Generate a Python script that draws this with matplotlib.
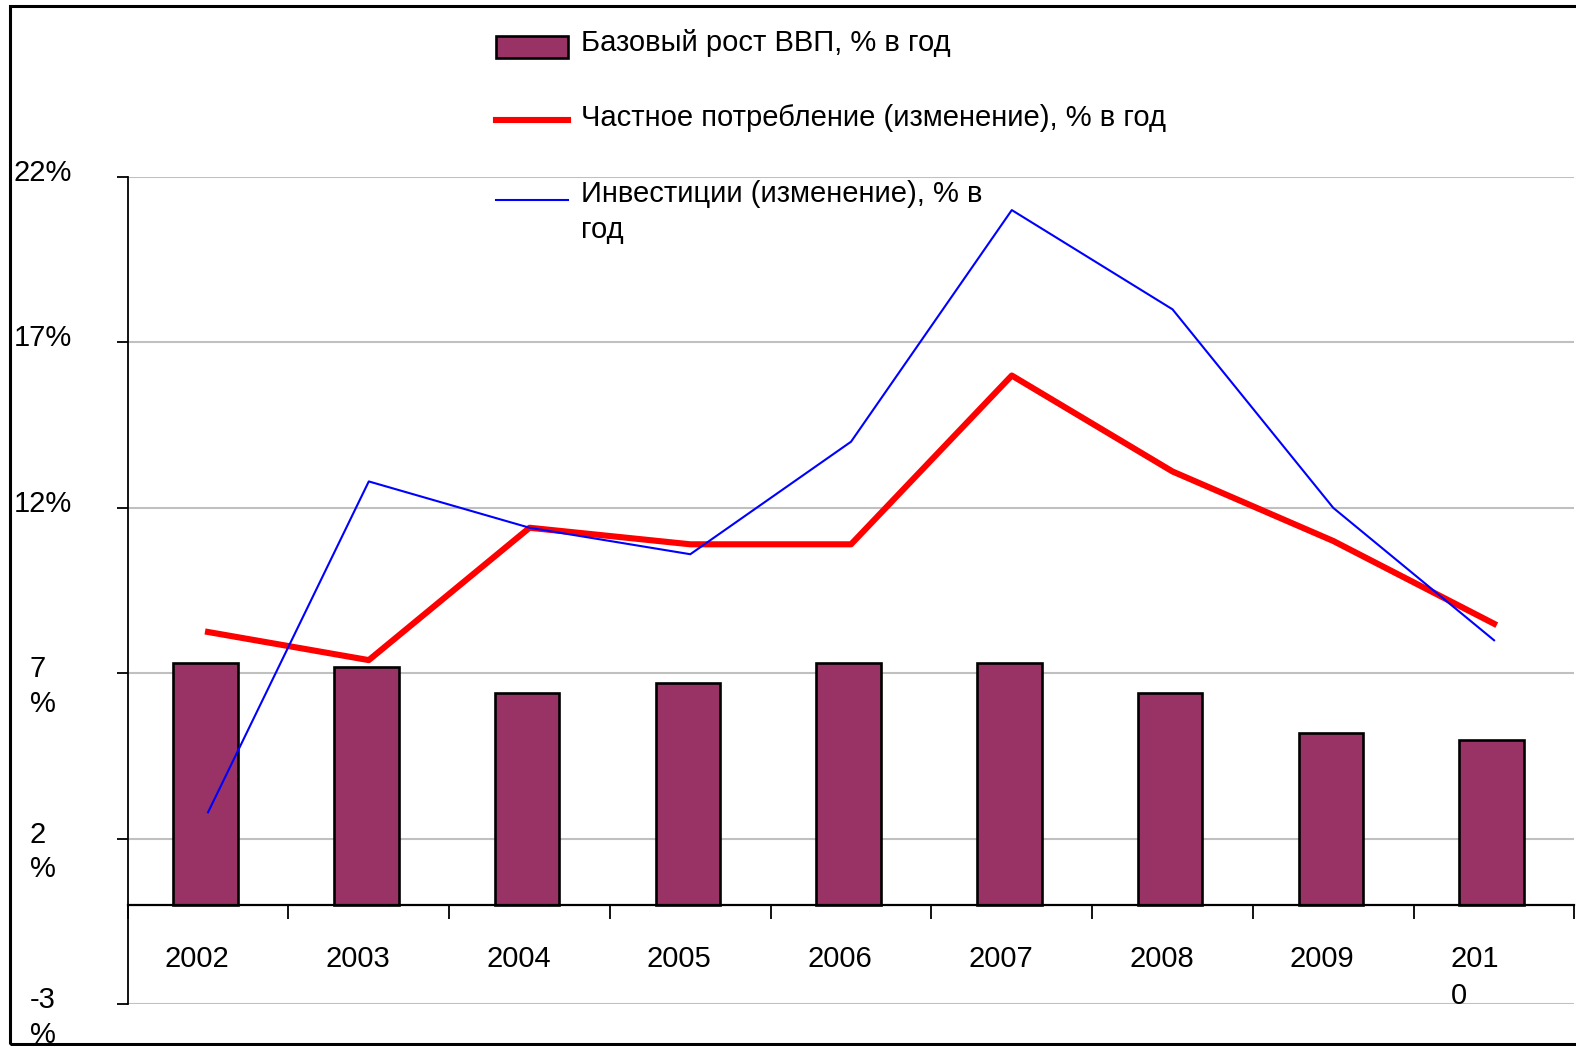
import numpy as np
import matplotlib.pyplot as plt
from matplotlib.patches import Rectangle, Patch
from matplotlib.transforms import ScaledTranslation

plt.rcParams['font.family'] = ['Liberation Sans', 'DejaVu Sans']

# данные
years = ['2002', '2003', '2004', '2005', '2006', '2007', '2008', '2009', '201\n0']
gdp = [7.3, 7.2, 6.4, 6.7, 7.3, 7.3, 6.4, 5.2, 5.0]
consumption = [8.25, 7.4, 11.4, 10.9, 10.9, 16.0, 13.1, 11.0, 8.5]
investment = [2.8, 12.8, 11.4, 10.6, 14.0, 21.0, 18.0, 12.0, 8.0]
yticks = [-3, 2, 7, 12, 17, 22]
ytick_labels = ['-3\n%', '2\n%', '7\n%', '12%', '17%', '22%']
series_names = ['Базовый рост ВВП, % в год',
                'Частное потребление (изменение), % в год',
                'Инвестиции (изменение), % в\nгод']

fs = 21
x = np.arange(len(years))

fig = plt.figure(figsize=(15.76, 10.46), dpi=100)
ax = fig.add_axes([0.081, 0.0399, 0.918, 0.7909])

# рамка вокруг всей картинки
fig.patches.append(Rectangle((0.0065, 0.002), 1.0, 0.9925, transform=fig.transFigure,
                             fill=False, edgecolor='black', linewidth=2.2))

bars = ax.bar(x - 0.015, gdp, width=0.4, color='#993366', edgecolor='black', linewidth=1.9, zorder=2)
red, = ax.plot(x, consumption, color='#ff0000', linewidth=4.4, zorder=3)
blue, = ax.plot(x, investment, color='#0000ff', linewidth=1.5, zorder=4)

ax.set_xlim(-0.5, len(years) - 0.5)
ax.set_ylim(-3, 22)

# сетка
ax.set_yticks(yticks)
ax.set_yticklabels(ytick_labels, fontsize=fs, ha='center', va='top',
                   multialignment='left', linespacing=1.3)
ax.yaxis.grid(True, color='#c0c0c0', linewidth=1.5, zorder=0)
ax.set_axisbelow(True)
ax.tick_params(axis='y', direction='out', length=8, width=1.3, pad=53)
off = ScaledTranslation(0, 0.18, fig.dpi_scale_trans)
for lab in ax.get_yticklabels():
    lab.set_transform(lab.get_transform() + off)

# ось X по нулю, метки между категориями
ax.spines['top'].set_visible(False)
ax.spines['right'].set_visible(False)
ax.spines['bottom'].set_position(('data', 0))
ax.spines['bottom'].set_linewidth(1.6)
ax.spines['left'].set_linewidth(1.3)
ax.set_xticks(np.arange(len(years) + 1) - 0.5)
ax.set_xticklabels([])
ax.tick_params(axis='x', direction='out', length=10, width=1.3)

for i, yr in enumerate(years):
    ax.text(i - 0.5 + 0.23, -1.22, yr, fontsize=fs, ha='left', va='top', linespacing=1.4)

leg = fig.legend([bars, red, blue], series_names, loc='upper left',
                 bbox_to_anchor=(0.315, 1 - 29 / 1046), frameon=False, fontsize=fs,
                 handlelength=2.45, handleheight=0.75, handletextpad=0.45,
                 labelspacing=1.62, borderpad=0, borderaxespad=0)
for t in leg.get_texts():
    t.set_linespacing(1.4)

# значки легенды немного ниже/выше текста, как в оригинале
for h, dy in zip(leg.legend_handles, [-0.06, -0.04, 0.12]):
    shift = ScaledTranslation(0, dy, fig.dpi_scale_trans)
    if isinstance(h, Patch):
        h.set_transform(h.get_data_transform() + shift)
    else:
        h.set_transform(h.get_transform() + shift)

fig.savefig('out.png', dpi=100)
